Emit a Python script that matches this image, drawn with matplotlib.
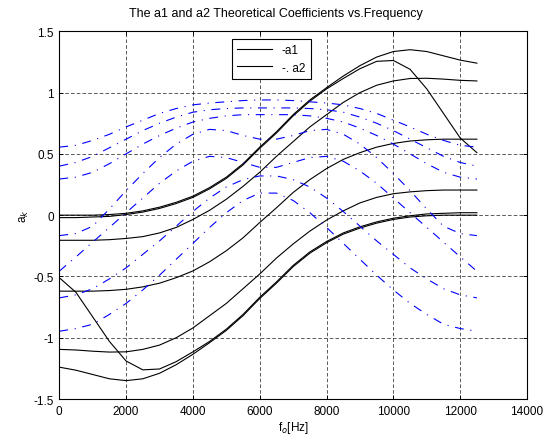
import matplotlib
matplotlib.use('Agg')
import matplotlib.pyplot as plt
from matplotlib.lines import Line2D

plt.rcParams['font.family'] = ['Liberation Sans', 'DejaVu Sans']

# centre frequency axis [Hz]
freq = [0, 500, 1000, 1500, 2000, 2500, 3000, 3500, 4000, 4500, 5000, 5500, 6000,
        6500, 7000, 7500, 8000, 8500, 9000, 9500, 10000, 10500, 11000, 11500, 12000, 12500]

# a1 curves (black, solid)
a1_p1 = [0.00, 0.00, 0.00, 0.005, 0.015, 0.035, 0.065, 0.105, 0.155, 0.225, 0.31, 0.42, 0.555,
         0.68, 0.82, 0.94, 1.04, 1.135, 1.22, 1.29, 1.335, 1.35, 1.335, 1.30, 1.265, 1.24]
a1_p2 = [-0.02, -0.02, -0.015, -0.01, 0.005, 0.025, 0.055, 0.095, 0.145, 0.215, 0.30, 0.41, 0.545,
         0.67, 0.81, 0.93, 1.03, 1.115, 1.195, 1.255, 1.262, 1.19, 1.03, 0.83, 0.63, 0.51]
a1_c = [-0.205, -0.205, -0.205, -0.20, -0.19, -0.175, -0.145, -0.10, -0.035, 0.04, 0.13, 0.235, 0.35,
        0.48, 0.60, 0.72, 0.82, 0.92, 1.00, 1.06, 1.095, 1.115, 1.117, 1.11, 1.10, 1.095]
a1_d = [-0.62, -0.62, -0.62, -0.615, -0.605, -0.585, -0.555, -0.51, -0.455, -0.38, -0.29, -0.185, -0.06,
        0.06, 0.185, 0.29, 0.38, 0.455, 0.51, 0.555, 0.585, 0.605, 0.615, 0.62, 0.62, 0.62]
a1_e = [-1.095, -1.10, -1.11, -1.117, -1.115, -1.095, -1.06, -1.00, -0.92, -0.82, -0.72, -0.60, -0.48,
        -0.35, -0.235, -0.13, -0.04, 0.035, 0.10, 0.145, 0.175, 0.19, 0.20, 0.205, 0.205, 0.205]
a1_b = [-0.51, -0.63, -0.83, -1.03, -1.19, -1.262, -1.255, -1.195, -1.115, -1.03, -0.93, -0.81, -0.67,
        -0.545, -0.41, -0.30, -0.215, -0.145, -0.095, -0.055, -0.025, -0.005, 0.01, 0.015, 0.02, 0.02]
a1_a = [-1.24, -1.265, -1.30, -1.335, -1.35, -1.335, -1.29, -1.22, -1.135, -1.04, -0.94, -0.82, -0.68,
        -0.555, -0.42, -0.31, -0.225, -0.155, -0.105, -0.065, -0.035, -0.015, -0.005, 0.0, 0.0, 0.0]

# a2 curves (blue, dash-dot)
a2_1 = [0.555, 0.57, 0.61, 0.66, 0.72, 0.775, 0.83, 0.87, 0.90, 0.915, 0.925, 0.935, 0.94,
        0.94, 0.935, 0.925, 0.915, 0.90, 0.87, 0.83, 0.775, 0.72, 0.66, 0.61, 0.57, 0.555]
a2_2 = [0.40, 0.43, 0.48, 0.55, 0.62, 0.69, 0.75, 0.80, 0.84, 0.86, 0.87, 0.875, 0.875,
        0.875, 0.875, 0.87, 0.86, 0.84, 0.80, 0.75, 0.69, 0.62, 0.55, 0.48, 0.43, 0.40]
a2_3 = [0.295, 0.31, 0.35, 0.42, 0.50, 0.58, 0.65, 0.71, 0.76, 0.79, 0.81, 0.82, 0.82,
        0.82, 0.82, 0.81, 0.79, 0.76, 0.71, 0.65, 0.58, 0.50, 0.42, 0.35, 0.31, 0.295]
a2_4 = [-0.167, -0.15, -0.09, 0.05, 0.20, 0.34, 0.47, 0.58, 0.66, 0.70, 0.69, 0.65, 0.62,
        0.62, 0.65, 0.69, 0.70, 0.66, 0.58, 0.47, 0.34, 0.20, 0.05, -0.09, -0.15, -0.167]
a2_5 = [-0.457, -0.34, -0.22, -0.10, 0.02, 0.14, 0.26, 0.36, 0.44, 0.48, 0.47, 0.43, 0.39,
        0.39, 0.43, 0.47, 0.48, 0.44, 0.36, 0.26, 0.14, 0.02, -0.10, -0.22, -0.34, -0.457]
a2_6 = [-0.675, -0.65, -0.60, -0.52, -0.43, -0.32, -0.21, -0.09, 0.03, 0.14, 0.23, 0.29, 0.32,
        0.32, 0.29, 0.23, 0.14, 0.03, -0.09, -0.21, -0.32, -0.43, -0.52, -0.60, -0.65, -0.675]
a2_7 = [-0.947, -0.925, -0.89, -0.81, -0.72, -0.61, -0.49, -0.36, -0.23, -0.10, 0.02, 0.12, 0.18,
        0.18, 0.12, 0.02, -0.10, -0.23, -0.36, -0.49, -0.61, -0.72, -0.81, -0.89, -0.925, -0.947]

a1_curves = [a1_p1, a1_p2, a1_c, a1_d, a1_e, a1_b, a1_a]
a2_curves = [a2_1, a2_2, a2_3, a2_4, a2_5, a2_6, a2_7]

x_ticks = [0, 2000, 4000, 6000, 8000, 10000, 12000, 14000]
y_ticks = [-1.5, -1, -0.5, 0, 0.5, 1, 1.5]
y_tick_labels = ['-1.5', '-1', '-0.5', '0', '0.5', '1', '1.5']

fig = plt.figure(figsize=(5.5, 4.39), dpi=100)
ax = fig.add_axes([0.1078, 0.0888, 0.8504, 0.8376])

for ys in a1_curves:
    ax.plot(freq, ys, color='black', linewidth=0.8)
for ys in a2_curves:
    ax.plot(freq, ys, color='blue', linewidth=0.8, linestyle=(0, (8, 6, 1, 6)))

ax.set_xlim(0, 14000)
ax.set_ylim(-1.5, 1.5)
ax.set_xticks(x_ticks)
ax.set_xticklabels([str(t) for t in x_ticks])
ax.set_yticks(y_ticks)
ax.set_yticklabels(y_tick_labels)
ax.tick_params(direction='in', top=True, right=True, labelsize=8.5, length=3, width=0.7, pad=4)
for sp in ax.spines.values():
    sp.set_linewidth(0.8)

ax.grid(True, color='black', linestyle=(0, (4.3, 2.6)), linewidth=0.6, alpha=0.75)

ax.set_xlabel('f$_o$[Hz]', fontsize=8.5, labelpad=2)
ax.set_ylabel('a$_k$', fontsize=8.5, labelpad=2)
fig.text(275.5 / 550, 1 - 14 / 439, 'The a1 and a2 Theoretical Coefficients vs.Frequency',
         ha='center', va='center', fontsize=9)

leg_handles = [Line2D([0], [0], color='black', linewidth=0.8),
               Line2D([0], [0], color='black', linewidth=0.8)]
leg = ax.legend(leg_handles, ['-a1', '-. a2'], loc='upper left',
                bbox_to_anchor=(231.7 / 550, 1 - 40 / 439), bbox_transform=fig.transFigure,
                fancybox=False, framealpha=1, edgecolor='black', fontsize=8.5,
                borderaxespad=0, handlelength=3.0, borderpad=0.45, labelspacing=0.45)
leg.get_frame().set_linewidth(0.8)

fig.savefig('out.png', dpi=100)
